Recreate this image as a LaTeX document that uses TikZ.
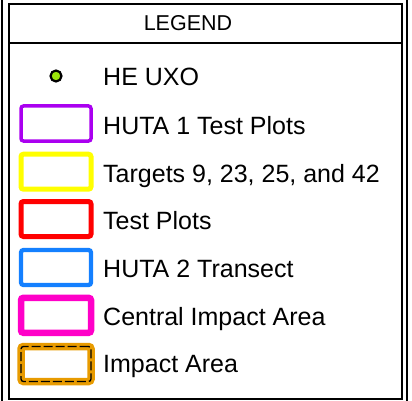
\documentclass[tikz,border=0pt]{standalone}
\usepackage{fontspec}
\setmainfont{Liberation Sans}
\definecolor{purp}{RGB}{170,0,240}
\definecolor{yell}{RGB}{255,255,0}
\definecolor{redc}{RGB}{255,0,0}
\definecolor{bluc}{RGB}{20,128,255}
\definecolor{magc}{RGB}{255,0,200}
\definecolor{oran}{RGB}{232,155,0}
\definecolor{lime}{RGB}{155,230,10}
\begin{document}
\begin{tikzpicture}[x=1pt,y=-1pt,
  swatch/.style={draw, rounded corners=2.5pt, minimum width=70pt, minimum height=35pt, inner sep=0pt},
  label/.style={anchor=base west, inner sep=0pt, font=\fontsize{25}{30}\selectfont},
  frame/.style={draw=black, line width=2pt}]
\useasboundingbox (0,0) rectangle (412,401);
% outer vertical lines
\coordinate (ol1) at (1.8,0); \coordinate (ol2) at (1.8,401);
\coordinate (or1) at (407,0); \coordinate (or2) at (407,401);
\draw[line width=1.6pt] (ol1) -- (ol2);
\draw[line width=1.6pt] (or1) -- (or2);
% inner box
\draw[frame] (9,3.7) rectangle (402,398.5);
\coordinate (hl) at (9,42.7); \coordinate (hr) at (402,42.7);
\draw[frame] (hl) -- (hr);
\node[anchor=base, inner sep=0pt, font=\fontsize{21.5}{25}\selectfont] (title) at (188,31) {LEGEND};
% HE UXO
\node[circle, draw=black, line width=2.2pt, fill=lime, minimum size=11pt, inner sep=0pt] (uxo) at (56,76) {};
\node[label] (tuxo) at (103,85.7) {HE UXO};
% swatches
\node[swatch, draw=purp, line width=3.5pt] (s1) at (56,123.5) {};
\node[label] (t1) at (103,134.3) {HUTA 1 Test Plots};
\node[swatch, draw=yell, line width=5pt] (s2) at (56,171.7) {};
\node[label] (t2) at (103,182) {Targets 9, 23, 25, and 42};
\node[swatch, draw=redc, line width=5pt] (s3) at (56,219) {};
\node[label] (t3) at (103,229.7) {Test Plots};
\node[swatch, draw=bluc, line width=4.3pt] (s4) at (56,267.5) {};
\node[label] (t4) at (103,277.4) {HUTA 2 Transect};
\node[swatch, draw=magc, line width=6.5pt] (s5) at (56,315.3) {};
\node[label] (t5) at (103,325) {Central Impact Area};
\node[swatch, draw=black, line width=1.3pt, dash pattern=on 9pt off 3pt,
  preaction={draw=oran, line width=7.5pt, solid}] (s6) at (56,364) {};
\node[label] (t6) at (103,372.3) {Impact Area};
\end{tikzpicture}
\end{document}
